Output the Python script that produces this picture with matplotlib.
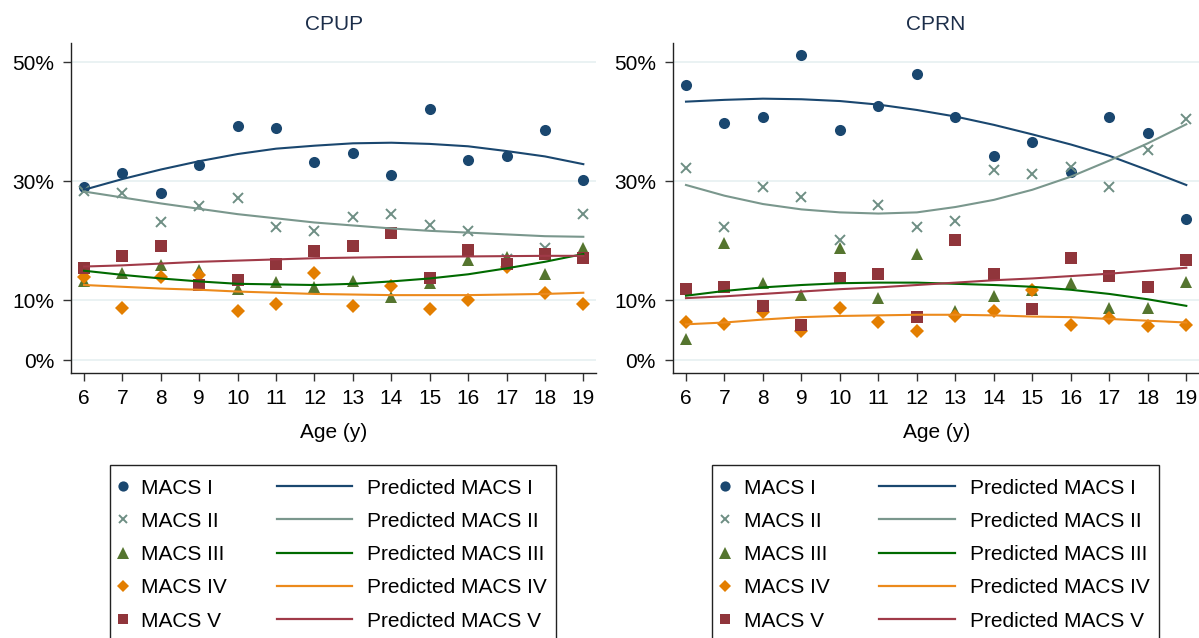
import matplotlib
matplotlib.use("Agg")
import matplotlib.pyplot as plt
from matplotlib.lines import Line2D
from matplotlib.patches import Rectangle

plt.rcParams['font.family'] = ['Liberation Sans', 'DejaVu Sans']

# ---- data (percent of children) ----
ages = [6, 7, 8, 9, 10, 11, 12, 13, 14, 15, 16, 17, 18, 19]
levels = ["MACS I", "MACS II", "MACS III", "MACS IV", "MACS V"]

cpup_obs_I = [29.0, 31.4, 28.1, 32.7, 39.3, 38.9, 33.3, 34.8, 31.1, 42.2, 33.6, 34.2, 38.7, 30.3]
cpup_obs_II = [28.4, 28.0, 23.1, 25.8, 27.2, 22.3, 21.6, 24.0, 24.5, 22.7, 21.6, 16.9, 18.8, 24.5]
cpup_obs_III = [13.3, 14.6, 16.0, 15.2, 12.0, 13.1, 12.3, 13.3, 10.6, 12.9, 16.8, 17.3, 14.4, 18.8]
cpup_obs_IV = [14.0, 8.8, 14.0, 14.3, 8.3, 9.4, 14.7, 9.0, 12.4, 8.5, 10.0, 15.6, 11.2, 9.4]
cpup_obs_V = [15.4, 17.5, 19.2, 12.6, 13.4, 16.2, 18.3, 19.2, 21.3, 13.7, 18.4, 16.2, 17.8, 17.1]

cpup_fit_I = [28.6, 30.4, 32.0, 33.4, 34.6, 35.5, 36.0, 36.4, 36.5, 36.3, 35.9, 35.1, 34.2, 32.9]
cpup_fit_II = [28.3, 27.3, 26.3, 25.4, 24.5, 23.8, 23.1, 22.6, 22.1, 21.7, 21.4, 21.1, 20.8, 20.7]
cpup_fit_III = [15.0, 14.3, 13.7, 13.2, 12.8, 12.7, 12.6, 12.8, 13.2, 13.7, 14.4, 15.4, 16.5, 17.8]
cpup_fit_IV = [12.6, 12.3, 12.0, 11.8, 11.5, 11.3, 11.1, 11.0, 10.9, 10.9, 10.9, 11.0, 11.1, 11.3]
cpup_fit_V = [15.7, 15.9, 16.2, 16.5, 16.7, 16.9, 17.1, 17.2, 17.3, 17.35, 17.4, 17.45, 17.5, 17.5]

cprn_obs_I = [46.2, 39.8, 40.9, 51.3, 38.7, 42.7, 48.0, 40.9, 34.3, 36.7, 31.6, 40.9, 38.1, 23.7]
cprn_obs_II = [32.3, 22.4, 29.1, 27.3, 20.2, 26.1, 22.4, 23.4, 32.0, 31.2, 32.5, 29.1, 35.3, 40.5]
cprn_obs_III = [3.5, 19.6, 12.9, 10.9, 18.8, 10.4, 17.8, 8.2, 10.8, 11.8, 13.0, 8.8, 8.8, 13.1]
cprn_obs_IV = [6.4, 6.1, 8.1, 4.9, 8.8, 6.4, 4.8, 7.4, 8.3, 11.7, 5.9, 7.1, 5.7, 5.9]
cprn_obs_V = [11.9, 12.2, 9.0, 5.8, 13.7, 14.4, 7.2, 20.2, 14.4, 8.5, 17.1, 14.1, 12.3, 16.8]

cprn_fit_I = [43.4, 43.7, 43.9, 43.8, 43.5, 42.9, 42.0, 40.9, 39.5, 37.9, 36.2, 34.3, 31.9, 29.4]
cprn_fit_II = [29.4, 27.6, 26.2, 25.3, 24.8, 24.6, 24.8, 25.7, 26.9, 28.6, 30.8, 33.5, 36.4, 39.6]
cprn_fit_III = [10.8, 11.6, 12.2, 12.6, 12.9, 13.0, 13.0, 12.8, 12.6, 12.3, 11.8, 11.1, 10.2, 9.1]
cprn_fit_IV = [6.0, 6.3, 6.8, 7.2, 7.4, 7.5, 7.6, 7.6, 7.5, 7.3, 7.2, 6.9, 6.6, 6.3]
cprn_fit_V = [10.4, 10.7, 11.1, 11.5, 11.9, 12.2, 12.6, 13.0, 13.4, 13.7, 14.1, 14.5, 15.0, 15.5]

yticks = [0, 10, 30, 50]
ytick_labels = ["0%", "10%", "30%", "50%"]

# ---- styles ----
marker_style = [
    dict(marker='o', ms=8.0, color='#1a476f', mew=0),
    dict(marker='x', ms=7.0, color='#6e8e84', mew=1.4),
    dict(marker='^', ms=9.0, color='#55752f', mew=0),
    dict(marker='D', ms=7.0, color='#e37e00', mew=0),
    dict(marker='s', ms=8.0, color='#90353b', mew=0),
]
line_colors = ['#1a476f', '#7a978d', '#006a00', '#ec8a1c', '#a03a48']

W, H = 1199, 638
fig = plt.figure(figsize=(W / 100, H / 100), dpi=100)


def fx(px):
    return px / W


def fy(py):
    return 1 - py / H


ax_top, ax_bot = 42.7, 372.7
ax_l = fig.add_axes([fx(71.4), fy(ax_bot), (596 - 71.4) / W, (ax_bot - ax_top) / H])
ax_r = fig.add_axes([fx(673.3), fy(ax_bot), (1199 - 673.3) / W, (ax_bot - ax_top) / H])

panels = [
    (ax_l, "CPUP", [cpup_obs_I, cpup_obs_II, cpup_obs_III, cpup_obs_IV, cpup_obs_V],
     [cpup_fit_I, cpup_fit_II, cpup_fit_III, cpup_fit_IV, cpup_fit_V], 71.4, 596),
    (ax_r, "CPRN", [cprn_obs_I, cprn_obs_II, cprn_obs_III, cprn_obs_IV, cprn_obs_V],
     [cprn_fit_I, cprn_fit_II, cprn_fit_III, cprn_fit_IV, cprn_fit_V], 673.3, 1199),
]

for ax, title, obs, fits, left_px, right_px in panels:
    for vals, st in zip(obs, marker_style):
        ax.plot(ages, vals, linestyle='none', zorder=3, **st)
    for vals, c in zip(fits, line_colors):
        ax.plot(ages, vals, color=c, lw=1.5, zorder=4)

    ax.set_xlim(5.67, 19.33)
    ax.set_ylim(-2.13, 53.3)
    ax.set_xticks(ages)
    ax.set_yticks(yticks)
    ax.set_yticklabels(ytick_labels)
    ax.tick_params(axis='both', labelsize=15, length=6, width=1, color='#333333')
    ax.tick_params(axis='y', pad=6.5)
    ax.tick_params(axis='x', pad=5.5)
    ax.yaxis.grid(True, color='#eaf2f3', lw=1.4)
    ax.set_axisbelow(True)
    for side in ['top', 'right']:
        ax.spines[side].set_visible(False)
    for side in ['left', 'bottom']:
        ax.spines[side].set_color('#222222')
        ax.spines[side].set_linewidth(1)
    ax.set_xlabel("Age (y)", fontsize=15, labelpad=11)
    ax.set_title(title, fontsize=15, color='#1c2e4a', pad=9.5)

    # legend box under each panel
    cx = (left_px + right_px) / 2 - 0.6
    box_l = cx - 223.2
    box_w = 446.4
    fig.add_artist(Rectangle((fx(box_l), fy(660)), box_w / W, (660 - 464.7) / H,
                             transform=fig.transFigure, fill=False,
                             edgecolor='#222222', lw=1))
    for i, (lab, st, c) in enumerate(zip(levels, marker_style, line_colors)):
        yc = 486 + 33.3 * i
        leg_st = dict(st)
        leg_st['ms'] = st['ms'] * 0.92
        fig.add_artist(Line2D([fx(box_l + 13)], [fy(yc)], linestyle='none',
                              transform=fig.transFigure, **leg_st))
        fig.text(fx(box_l + 31.4), fy(yc + 7.5), lab, fontsize=15, va='baseline')
        fig.add_artist(Line2D([fx(box_l + 166.7), fx(box_l + 242.4)], [fy(yc), fy(yc)],
                              transform=fig.transFigure, color=c, lw=1.6))
        fig.text(fx(box_l + 257.4), fy(yc + 7.5), "Predicted " + lab, fontsize=15,
                 va='baseline')

fig.savefig("out.png", dpi=100)
